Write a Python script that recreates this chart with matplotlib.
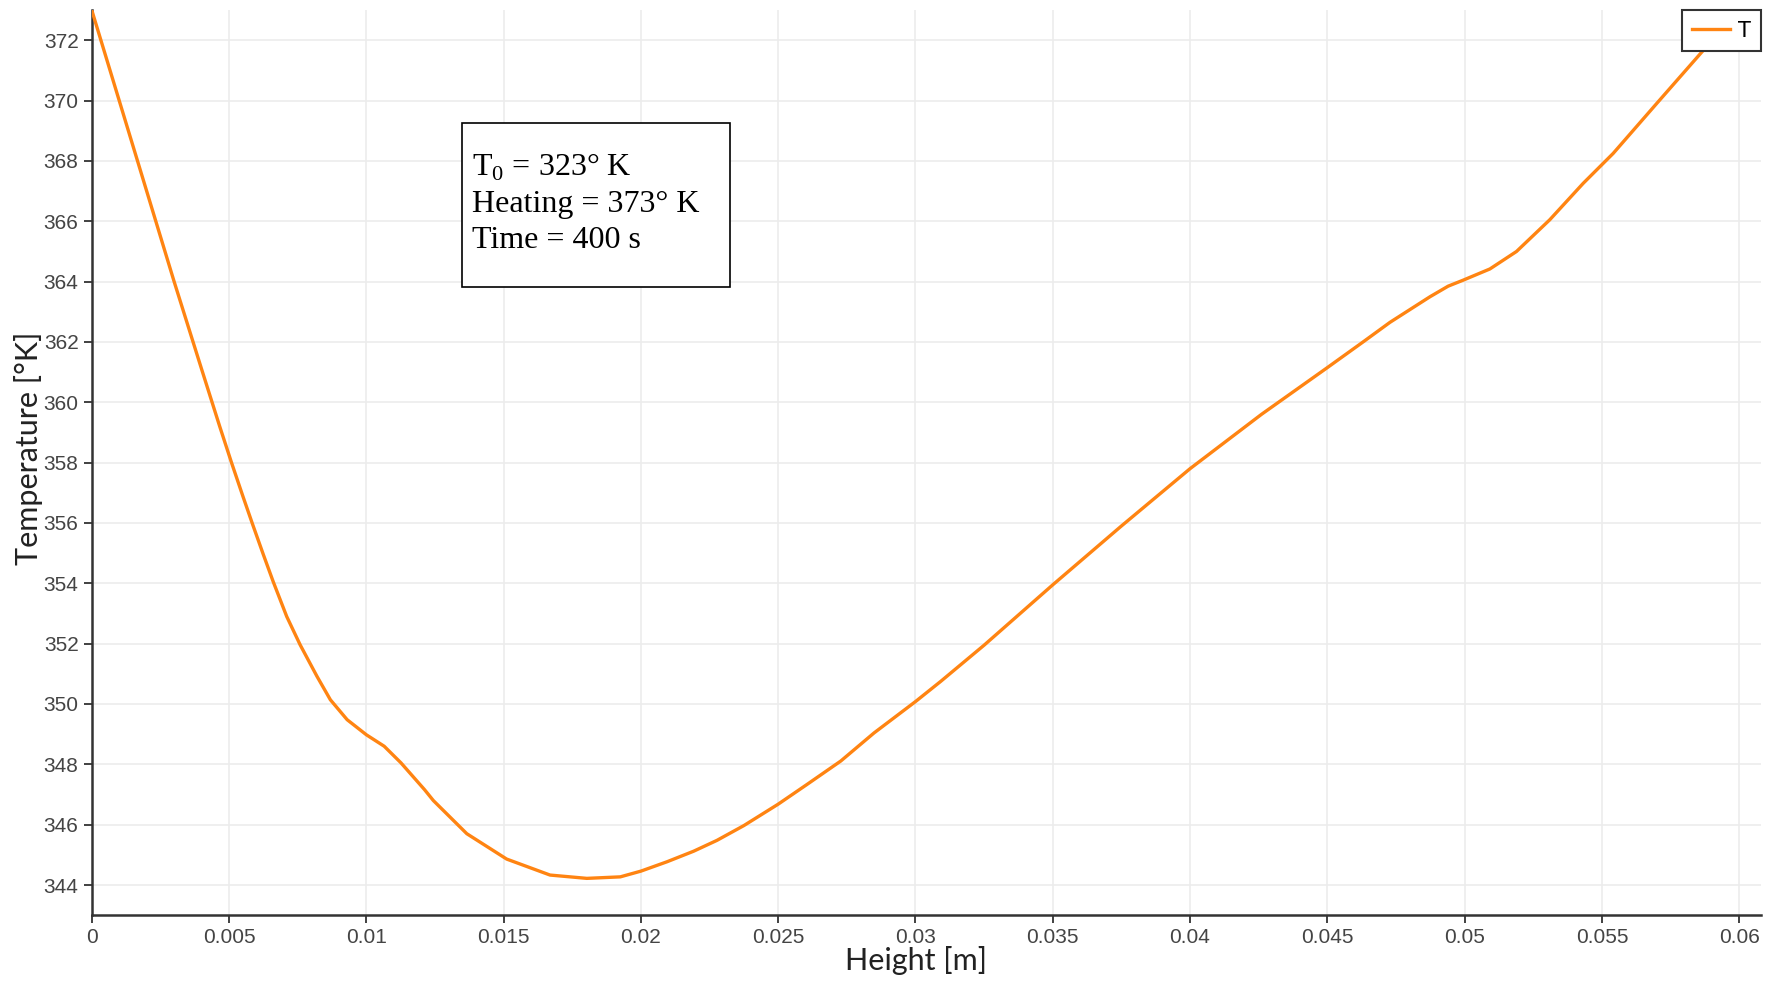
import numpy as np
import matplotlib
matplotlib.use("Agg")
from matplotlib import pyplot as plt
from matplotlib.patches import Rectangle
from matplotlib.ticker import FuncFormatter

### Temperature profile along the height (t = 400 s)
height = [0.0, 0.001, 0.002, 0.003, 0.004, 0.00466, 0.00509, 0.00551, 0.00586,
          0.00625, 0.00661, 0.0071, 0.00759, 0.0082, 0.00869, 0.0093, 0.01,
          0.01065, 0.01126, 0.01212, 0.01244, 0.01366, 0.01511, 0.01669, 0.01803,
          0.01852, 0.01925, 0.02, 0.02095, 0.02192, 0.02277, 0.02375, 0.025,
          0.02606, 0.02728, 0.02849, 0.03, 0.03092, 0.0325, 0.035, 0.0375,
          0.04, 0.0426, 0.045, 0.0463, 0.04728, 0.04874, 0.0494, 0.04995,
          0.05092, 0.05189, 0.0531, 0.05432, 0.05541, 0.05699, 0.05858, 0.0600]
temp = [373.0, 370.0, 367.0, 364.0, 361.1, 359.2, 358.0, 356.87, 355.95,
        354.95, 354.05, 352.9, 351.96, 350.92, 350.14, 349.48, 348.98,
        348.6, 348.05, 347.16, 346.8, 345.7, 344.86, 344.33, 344.22,
        344.24, 344.27, 344.46, 344.77, 345.12, 345.48, 345.97, 346.68,
        347.34, 348.11, 349.04, 350.08, 350.75, 351.95, 353.95, 355.9,
        357.8, 359.6, 361.15, 362.0, 362.65, 363.5, 363.85, 364.05,
        364.42, 365.0, 366.05, 367.26, 368.25, 369.9, 371.55, 373.0]

x_ticks = np.arange(0, 0.0601, 0.005)
y_ticks = np.arange(344, 373, 2)
info = ['T$_0$ = 323° K', 'Heating = 373° K', 'Time = 400 s']

plt.rcParams['mathtext.fontset'] = 'custom'
plt.rcParams['mathtext.rm'] = 'Liberation Serif'

fig = plt.figure(figsize=(17.75, 9.83), dpi=100)
ax = fig.add_axes([0.0517, 0.069, 0.9405, 0.9207])

ax.plot(height, temp, color='#ff8412', lw=2.4, label='T', zorder=3)

ax.set_xlim(0, 0.0608)
ax.set_ylim(343, 373)
ax.set_xticks(x_ticks)
ax.set_yticks(y_ticks)
ax.xaxis.set_major_formatter(FuncFormatter(lambda v, p: '{:g}'.format(round(v, 3))))
ax.tick_params(labelsize=15, colors='#333333', labelcolor='#444444', length=6, width=1.3)
for lb in ax.get_xticklabels() + ax.get_yticklabels():
    lb.set_family('Liberation Sans')
ax.grid(True, color='#ececec', lw=1.2)
ax.set_axisbelow(True)

for s in ['top', 'right']:
    ax.spines[s].set_visible(False)
for s in ['left', 'bottom']:
    ax.spines[s].set_color('#333333')
    ax.spines[s].set_linewidth(1.8)

ax.set_xlabel('Height [m]', fontsize=22, family='Lato', color='#222222')
ax.set_ylabel('Temperature [°K]', fontsize=22, family='Lato', color='#222222')
ax.xaxis.set_label_coords(0.494, -0.034)
ax.yaxis.set_label_coords(-0.029, 0.516)

# info box with the simulation parameters
ax.add_patch(Rectangle((0.2217, 0.6943), 0.1607, 0.1805, transform=ax.transAxes,
                       fill=True, facecolor='white', edgecolor='black', lw=1.2, zorder=4))
for txt, yb in zip(info, [0.8177, 0.7771, 0.7367]):
    ax.text(0.2276, yb, txt, transform=ax.transAxes, fontsize=23,
            family='Liberation Serif', va='baseline', ha='left', zorder=5)

leg = ax.legend(loc='upper right', borderaxespad=0.0, fontsize=15, handlelength=1.8,
                handletextpad=0.4, borderpad=0.5, fancybox=False, framealpha=1,
                edgecolor='#333333', prop={'family': 'Liberation Sans Narrow', 'size': 15})
leg.get_frame().set_linewidth(1.5)

plt.savefig('out.png', dpi=100)
